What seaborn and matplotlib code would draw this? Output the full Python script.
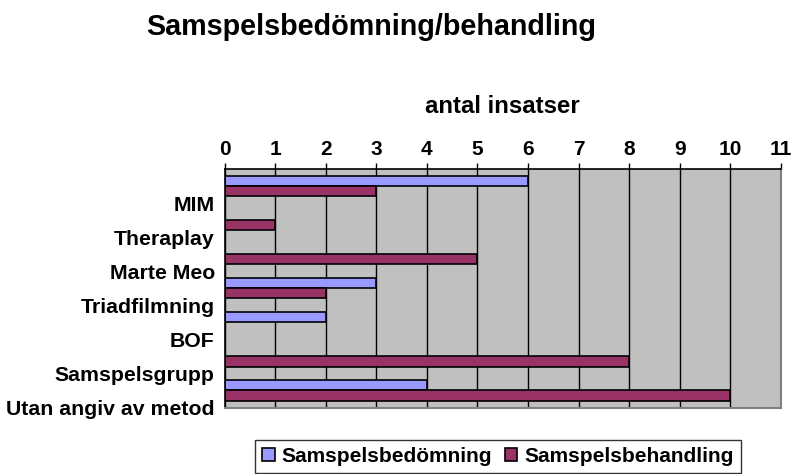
import matplotlib
matplotlib.use("Agg")
import matplotlib.pyplot as plt
import seaborn as sns
import pandas as pd

categories = ["MIM", "Theraplay", "Marte Meo", "Triadfilmning", "BOF",
              "Samspelsgrupp", "Utan angiv av metod"]
bedomning = [6, 0, 0, 3, 2, 0, 4]
behandling = [3, 1, 5, 2, 0, 8, 10]
series_names = ["Samspelsbedömning", "Samspelsbehandling"]
x_ticks = list(range(0, 12))

df = pd.DataFrame({
    "category": categories * 2,
    "value": bedomning + behandling,
    "series": [series_names[0]] * len(categories) + [series_names[1]] * len(categories),
})

sns.set_style("white")
plt.rcParams["font.family"] = ["Liberation Sans", "DejaVu Sans"]
plt.rcParams["font.weight"] = "bold"
plt.rcParams["text.color"] = "black"
plt.rcParams["axes.labelcolor"] = "black"
plt.rcParams["xtick.color"] = "black"
plt.rcParams["ytick.color"] = "black"

fig = plt.figure(figsize=(7.93, 4.74), dpi=100)
ax = fig.add_axes([224.5 / 793, 66.5 / 474, (781 - 224.5) / 793, (407.5 - 169) / 474])
ax.set_facecolor("#C0C0C0")

for v in x_ticks:
    ax.axvline(v, color="black", lw=1.0, zorder=0.5)

sns.barplot(data=df, y="category", x="value", hue="series", orient="h",
            palette=["#9999FF", "#993366"], width=0.6, edgecolor="black",
            linewidth=1.2, ax=ax, zorder=2, saturation=1)

handles, labels = ax.get_legend_handles_labels()
if ax.get_legend() is not None:
    ax.get_legend().remove()

ax.set_xlim(0, 11)
ax.set_ylim(len(categories) - 0.5, -0.5)
ax.set_xticks(x_ticks)
ax.set_xticklabels([str(t) for t in x_ticks], fontsize=15, fontweight="bold", color="black")
ax.set_yticks([i + 0.5 for i in range(len(categories))])
ax.set_yticklabels(categories, fontsize=15.3, fontweight="bold", color="black")
ax.xaxis.tick_top()
ax.tick_params(axis="x", direction="out", length=4, width=1, pad=3, colors="black")
ax.tick_params(axis="y", direction="out", length=5, width=1, pad=2, colors="black")
ax.set_xlabel("")
ax.set_ylabel("")

for side in ["top", "left"]:
    ax.spines[side].set_color("black")
    ax.spines[side].set_linewidth(1.2)
for side in ["bottom", "right"]:
    ax.spines[side].set_color("#808080")
    ax.spines[side].set_linewidth(1.5)

fig.text(371.5 / 793, 1 - 35 / 474, "Samspelsbedömning/behandling",
         ha="center", va="baseline", fontsize=20.7, fontweight="bold", color="black")
fig.text(502.5 / 793, 1 - 113 / 474, "antal insatser",
         ha="center", va="baseline", fontsize=17.3, fontweight="bold", color="black")

leg = fig.legend(handles, labels, loc="center", bbox_to_anchor=(498 / 793, 17.5 / 474),
                 ncol=2, frameon=True, fancybox=False, edgecolor="black",
                 prop={"weight": "bold", "size": 15},
                 handlelength=0.6, handleheight=0.6, handletextpad=0.35,
                 columnspacing=0.6, borderpad=0.35, borderaxespad=0)
leg.get_frame().set_linewidth(1.0)

fig.savefig("out.png", dpi=100)
